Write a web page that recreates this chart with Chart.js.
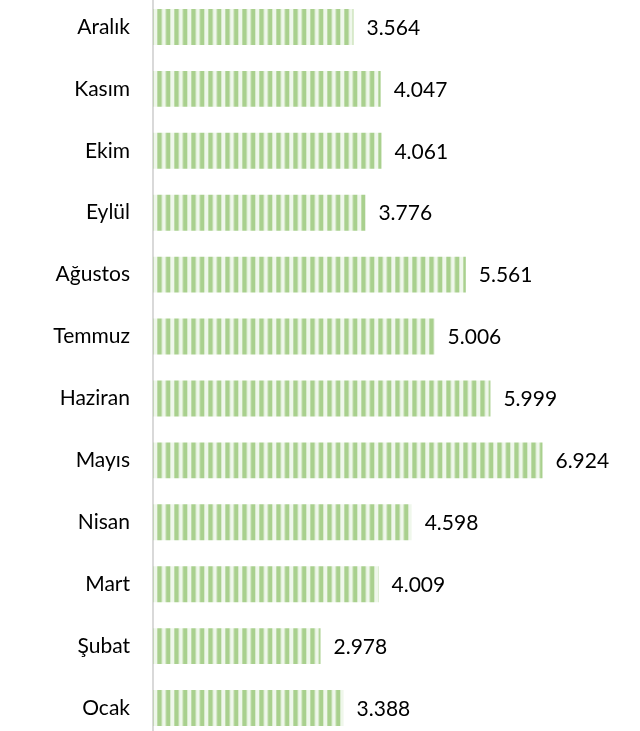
<!DOCTYPE html>
<html>
<head>
<meta charset="utf-8">
<script src="https://cdn.jsdelivr.net/npm/chart.js@4/dist/chart.umd.min.js"></script>
<style>
  html, body { margin: 0; padding: 0; background: #fff; overflow: hidden; }
  #wrap { position: absolute; left: 0; top: -4px; width: 640px; height: 743px; }
</style>
</head>
<body>
<div id="wrap"><canvas id="barchart"></canvas></div>
<script>
// months, Ocak first (drawn at the bottom)
const months = ['Ocak', 'Şubat', 'Mart', 'Nisan', 'Mayıs', 'Haziran', 'Temmuz', 'Ağustos', 'Eylül', 'Ekim', 'Kasım', 'Aralık'];
const values = [3388, 2978, 4009, 4598, 6924, 5999, 5006, 5561, 3776, 4061, 4047, 3564];

function fmt(v) {
  // turkish thousands separator
  return String(v).replace(/\B(?=(\d{3})+(?!\d))/g, '.');
}

// striped fill like the excel pattern
function stripes(ctx) {
  const c = document.createElement('canvas');
  c.width = 17;
  c.height = 4;
  const p = c.getContext('2d');
  p.fillStyle = 'rgba(169, 208, 142, 0.18)';
  p.fillRect(0, 0, 17, 4);
  p.fillStyle = '#a9d08e';
  p.fillRect(0, 0, 4.5, 4);
  p.fillRect(8.5, 0, 4.5, 4);
  const pat = ctx.createPattern(c, 'repeat');
  pat.setTransform(new DOMMatrix().translate(157.3, 0));
  return pat;
}

const valueLabels = {
  id: 'valueLabels',
  afterDatasetsDraw(chart) {
    const ctx = chart.ctx;
    const meta = chart.getDatasetMeta(0);
    ctx.save();
    ctx.font = '21px Lato';
    ctx.fillStyle = '#000';
    ctx.textAlign = 'left';
    ctx.textBaseline = 'middle';
    meta.data.forEach((bar, i) => {
      ctx.fillText(fmt(values[i]), bar.x + 13, bar.y + 1);
    });
    ctx.restore();
  }
};

const ctx = document.getElementById('barchart').getContext('2d');

const myChart = new Chart(ctx, {
  type: 'bar',
  data: {
    labels: months,
    datasets: [{
      data: values,
      backgroundColor: stripes(ctx),
      borderWidth: 0,
      barPercentage: 0.58,
      categoryPercentage: 1
    }]
  },
  options: {
    indexAxis: 'y',
    responsive: true,
    maintainAspectRatio: false,
    animation: false,
    layout: { padding: { left: 0, right: 37, top: 0, bottom: 0 } },
    plugins: {
      legend: { display: false },
      tooltip: { enabled: false }
    },
    scales: {
      x: {
        display: false,
        min: 0,
        max: 8000
      },
      y: {
        reverse: true,
        grid: { display: false },
        border: { display: true, color: '#d9d9d9', width: 2 },
        ticks: {
          padding: 15,
          color: '#000',
          font: { family: 'Lato', size: 21 }
        },
        afterFit(scale) {
          scale.width = 153;
          // no extra room above/below, the bars fill the whole height
          scale.paddingTop = 0;
          scale.paddingBottom = 0;
        }
      }
    }
  },
  plugins: [valueLabels]
});
</script>
</body>
</html>
